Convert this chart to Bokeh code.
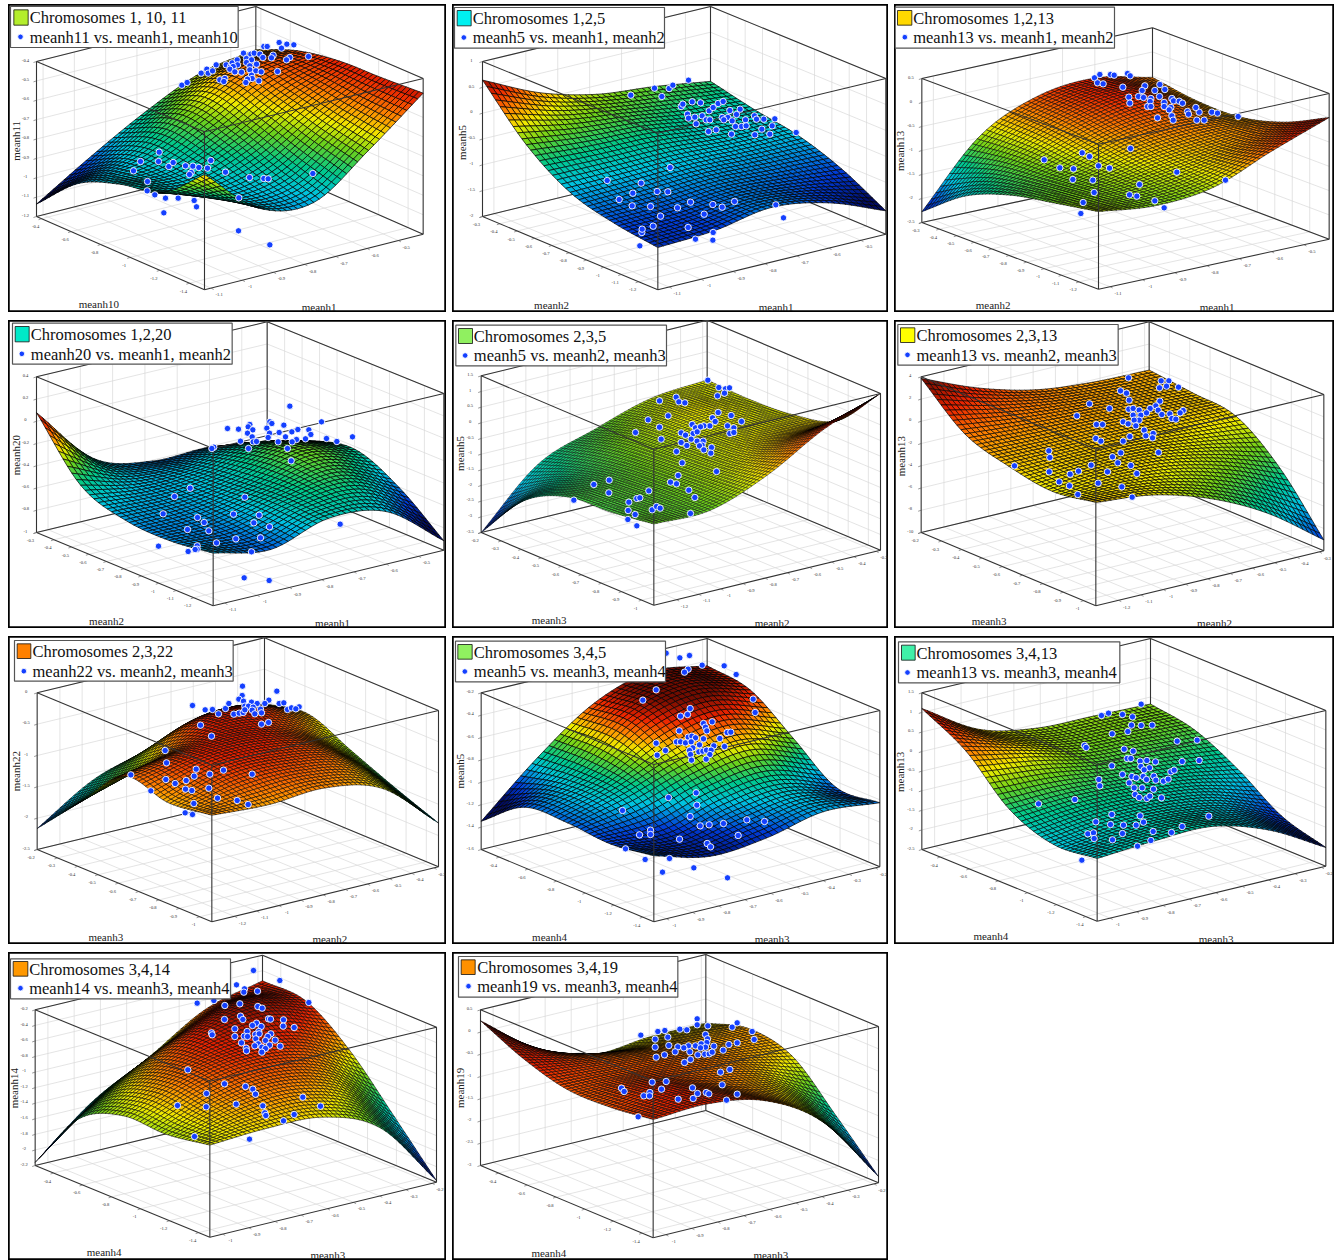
import numpy as np
from bokeh.plotting import figure
from bokeh.models import Range1d, ColumnDataSource
from bokeh.layouts import row, column
from bokeh.core.properties import value
from bokeh.embed import file_html
from bokeh.resources import INLINE

# ---------- chart content ----------
titles = ["Chromosomes 1, 10, 11", "Chromosomes 1,2,5", "Chromosomes 1,2,13", "Chromosomes 1,2,20",
          "Chromosomes 2,3,5", "Chromosomes 2,3,13", "Chromosomes 2,3,22", "Chromosomes 3,4,5",
          "Chromosomes 3,4,13", "Chromosomes 3,4,14", "Chromosomes 3,4,19"]
series = ["meanh11 vs. meanh1, meanh10", "meanh5 vs. meanh1, meanh2", "meanh13 vs. meanh1, meanh2",
          "meanh20 vs. meanh1, meanh2", "meanh5 vs. meanh2, meanh3", "meanh13 vs. meanh2, meanh3",
          "meanh22 vs. meanh2, meanh3", "meanh5 vs. meanh3, meanh4", "meanh13 vs. meanh3, meanh4",
          "meanh14 vs. meanh3, meanh4", "meanh19 vs. meanh3, meanh4"]
swatches = ["#b4ee2c", "#00f0f0", "#ffd800", "#00e8c8", "#90f060", "#ffff00", "#ff8000", "#90f060",
            "#40f0a8", "#ff9800", "#ff9000"]
left_names = ["meanh10", "meanh2", "meanh2", "meanh2", "meanh3", "meanh3", "meanh3", "meanh4", "meanh4", "meanh4", "meanh4"]
right_names = ["meanh1", "meanh1", "meanh1", "meanh1", "meanh2", "meanh2", "meanh2", "meanh3", "meanh3", "meanh3", "meanh3"]
z_names = ["meanh11", "meanh5", "meanh13", "meanh20", "meanh5", "meanh13", "meanh22", "meanh5", "meanh13", "meanh14", "meanh19"]

tk_l10 = ["-0.4", "-0.6", "-0.8", "-1", "-1.2", "-1.4"]
tk_l2 = ["-0.3", "-0.4", "-0.5", "-0.6", "-0.7", "-0.8", "-0.9", "-1", "-1.1", "-1.2"]
tk_l3 = ["-0.2", "-0.3", "-0.4", "-0.5", "-0.6", "-0.7", "-0.8", "-0.9", "-1"]
tk_r1 = ["-1.1", "-1", "-0.9", "-0.8", "-0.7", "-0.6", "-0.5"]
tk_r2 = ["-1.2", "-1.1", "-1", "-0.9", "-0.8", "-0.7", "-0.6", "-0.5", "-0.4", "-0.3"]
tk_r3 = ["-1", "-0.9", "-0.8", "-0.7", "-0.6", "-0.5", "-0.4", "-0.3", "-0.2"]
left_ticks = [tk_l10, tk_l2, tk_l2, tk_l2, tk_l3, tk_l3, tk_l3, tk_l10, tk_l10, tk_l10, tk_l10]
right_ticks = [tk_r1, tk_r1, tk_r1, tk_r1, tk_r2, tk_r2, tk_r2, tk_r3, tk_r3, tk_r3, tk_r3]
z_ticks = [
    ["-0.4", "-0.5", "-0.6", "-0.7", "-0.8", "-0.9", "-1", "-1.1", "-1.2"],
    ["1", "0.5", "0", "-0.5", "-1", "-1.5", "-2"],
    ["0.5", "0", "-0.5", "-1", "-1.5", "-2", "-2.5"],
    ["0.4", "0.2", "0", "-0.2", "-0.4", "-0.6", "-0.8", "-1"],
    ["1.5", "1", "0.5", "0", "-0.5", "-1", "-1.5", "-2", "-2.5", "-3", "-3.5"],
    ["4", "2", "0", "-2", "-4", "-6", "-8", "-10"],
    ["0", "-0.5", "-1", "-1.5", "-2", "-2.5"],
    ["-0.2", "-0.4", "-0.6", "-0.8", "-1", "-1.2", "-1.4", "-1.6"],
    ["1.5", "1", "0.5", "0", "-0.5", "-1", "-1.5", "-2", "-2.5"],
    ["-0.2", "-0.4", "-0.6", "-0.8", "-1", "-1.2", "-1.4", "-1.6", "-1.8", "-2", "-2.2"],
    ["0.5", "0", "-0.5", "-1", "-1.5", "-2", "-2.5", "-3"],
]

# Fitted surfaces: heights as a share of each box's z range, on a 5x5 grid of the two horizontal axes.
surf_1 = [[.08, .30, .50, .66, .72], [.33, .42, .62, .80, .83], [.44, .42, .56, .75, .88], [.50, .40, .46, .68, .89], [.73, .43, .38, .625, .906]]
surf_2 = [[.88, .71, .61, .57, .515], [.58, .54, .52, .47, .45], [.39, .40, .41, .40, .40], [.31, .32, .35, .33, .30], [.27, .29, .35, .29, .15]]
surf_3 = [[.075, .51, .70, .74, .657], [.30, .52, .68, .74, .61], [.42, .50, .62, .66, .61], [.48, .50, .56, .62, .69], [.535, .49, .53, .69, .835]]
surf_4 = [[.77, .385, .28, .28, .215], [.42, .34, .35, .42, .35], [.315, .32, .38, .50, .41], [.30, .30, .40, .45, .28], [.335, .27, .38, .335, .06]]
surf_5 = [[0, .345, .48, .59, .62], [.32, .44, .56, .63, .61], [.46, .50, .58, .62, .63], [.48, .52, .60, .68, .71], [.52, .52, .655, .86, 1.0]]
surf_6 = [[.99, .84, .74, .70, .69], [.75, .72, .70, .68, .66], [.66, .66, .66, .64, .625], [.615, .64, .62, .54, .41], [.66, .62, .51, .33, .07]]
surf_7 = [[.134, .36, .47, .60, .58], [.42, .55, .76, .77, .63], [.70, .76, .80, .72, .51], [.645, .76, .76, .68, .39], [.68, .66, .68, .59, .28]]
surf_8 = [[.18, .50, .76, .875, .825], [.385, .52, .78, .87, .785], [.40, .50, .63, .70, .59], [.38, .36, .46, .50, .39], [.42, .33, .36, .44, .41]]
surf_9 = [[.90, .68, .60, .59, .58], [.745, .66, .57, .55, .53], [.485, .50, .48, .45, .39], [.376, .42, .42, .36, .205], [.40, .425, .43, .32, .12]]
surf_10 = [[.02, .32, .52, .74, .835], [.415, .62, .80, .90, .82], [.55, .72, .80, .78, .62], [.545, .68, .72, .62, .32], [.59, .61, .595, .44, .01]]
surf_11 = [[.93, .66, .535, .56, .56], [.80, .72, .67, .64, .64], [.72, .72, .70, .65, .58], [.72, .76, .68, .58, .32], [.755, .77, .70, .48, .04]]
surfaces = [surf_1, surf_2, surf_3, surf_4, surf_5, surf_6, surf_7, surf_8, surf_9, surf_10, surf_11]

# Observations as they appear in each panel (x, y in the panel's own coordinates).
pts_1 = [(526,248),(542,240),(584,212),(601,200),(605,212),(618,205),(629,187),(640,232),(655,228),(652,237),(659,187),(672,192),(677,181),(692,172),(693,187),(680,192),(670,200),(685,208),(705,209),(711,152),(720,168),(733,155),(743,152),(760,155),(769,165),(735,172),(720,180),(730,190),(750,185),(730,202),(748,205),(764,208),(735,218),(737,228),(723,230),(757,235),(718,240),(772,132),(782,132),(818,120),(841,125),(862,127),(825,137),(800,158),(795,166),(850,165),(840,172),(906,162),(813,207),(458,449),(402,477),(456,477),(487,492),(500,480),(381,505),(537,490),(559,491),(577,495),(603,497),(613,474),(554,510),(549,516),(657,509),(729,525),(772,528),(785,529),(919,513),(423,537),(422,565),(445,577),(477,587),(515,587),(563,594),(570,613),(472,631),(697,586),(696,685),(790,727)]
pts_2 = [(541,278),(612,257),(634,282),(656,258),(667,248),(714,233),(692,312),(697,305),(725,298),(750,301),(711,335),(714,347),(733,344),(755,340),(737,364),(767,352),(776,325),(788,315),(803,303),(818,297),(778,352),(815,345),(832,345),(838,324),(869,320),(858,336),(845,355),(820,352),(885,352),(873,372),(855,372),(887,370),(843,395),(797,382),(774,387),(912,340),(918,350),(940,350),(973,349),(934,380),(958,395),(913,397),(965,370),(1037,390),(659,495),(572,542),(547,572),(620,567),(652,568),(506,591),(545,610),(600,612),(720,599),(681,616),(787,606),(815,614),(852,597),(976,607),(630,641),(761,635),(608,671),(713,675),(574,690),(575,680),(568,730),(788,690),(787,713),(735,710),(999,646),(470,534)]
pts_3 = [(606,226),(622,216),(654,216),(665,218),(705,213),(713,220),(615,241),(632,244),(691,254),(757,250),(802,246),(817,261),(787,264),(749,264),(738,282),(709,284),(712,302),(753,285),(801,282),(775,288),(773,297),(815,300),(838,288),(843,295),(860,296),(870,302),(765,312),(775,312),(815,312),(835,315),(830,322),(920,329),(910,315),(885,327),(888,335),(958,329),(975,332),(838,340),(795,346),(842,353),(913,353),(935,353),(1037,342),(714,438),(569,451),(591,462),(455,472),(502,496),(543,499),(618,490),(651,497),(541,531),(601,533),(853,509),(741,546),(999,533),(605,570),(711,577),(733,581),(787,595),(815,616),(565,633),(572,600)]
pts_4 = [(850,263),(945,310),(790,310),(796,315),(832,320),(730,318),(725,325),(663,330),(696,332),(739,334),(723,344),(781,329),(874,333),(907,334),(789,344),(818,342),(856,340),(913,348),(737,355),(785,357),(702,368),(740,370),(750,369),(837,355),(870,363),(857,370),(815,370),(897,361),(960,360),(991,369),(1038,355),(843,390),(726,390),(622,386),(616,390),(854,427),(551,509),(504,534),(715,536),(470,586),(573,597),(681,587),(758,590),(742,613),(593,612),(543,633),(607,637),(789,625),(688,661),(762,658),(630,673),(456,683),(572,682),(572,692),(566,693),(545,699),(735,700),(1001,617),(713,778),(788,786)]
pts_5 = [(772,185),(805,207),(825,211),(837,208),(822,224),(801,232),(627,247),(677,236),(685,250),(703,253),(803,282),(842,291),(786,298),(794,309),(653,292),(593,304),(627,326),(873,309),(831,322),(850,328),(778,322),(760,322),(725,318),(735,328),(750,325),(555,342),(632,362),(692,343),(705,350),(728,345),(740,340),(838,345),(850,342),(722,362),(740,368),(758,368),(755,380),(747,382),(709,381),(692,372),(678,399),(760,394),(783,387),(781,404),(695,433),(798,459),(683,471),(678,496),(660,491),(476,485),(430,498),(475,523),(595,517),(715,515),(559,540),(568,538),(733,537),(535,551),(370,545),(533,576),(554,588),(605,574),(618,564),(629,569),(720,585),(532,603),(559,622)]
pts_6 = [(708,178),(806,187),(829,187),(822,203),(801,208),(858,206),(684,217),(702,224),(710,245),(591,256),(651,270),(802,248),(790,262),(773,270),(797,275),(709,272),(722,270),(740,275),(722,290),(745,290),(762,283),(872,276),(863,283),(832,286),(808,288),(838,300),(850,302),(553,292),(740,305),(725,305),(612,318),(630,318),(692,310),(707,316),(730,322),(755,335),(782,345),(712,354),(760,352),(610,360),(625,368),(692,368),(780,358),(798,402),(685,403),(660,415),(469,397),(472,417),(676,433),(715,441),(596,440),(366,442),(470,460),(558,458),(533,467),(645,460),(733,465),(500,490),(531,502),(617,494),(688,505),(556,528),(719,536)]
pts_7 = [(708,155),(811,170),(707,183),(697,194),(711,200),(787,197),(818,207),(832,205),(558,213),(596,226),(618,225),(657,222),(667,207),(735,203),(752,207),(715,215),(726,215),(740,218),(775,207),(878,217),(843,225),(855,220),(868,223),(636,238),(682,239),(698,236),(710,234),(715,226),(737,227),(745,238),(762,224),(765,235),(765,269),(786,264),(582,272),(615,305),(476,348),(480,385),(569,404),(563,425),(651,407),(737,419),(610,419),(373,421),(478,435),(506,447),(539,438),(607,461),(537,464),(556,468),(433,469),(633,491),(692,498),(725,510),(562,507),(536,535),(558,540)]
pts_8 = [(647,56),(688,70),(717,63),(755,92),(821,94),(713,104),(702,113),(857,120),(617,166),(577,197),(908,194),(914,234),(719,222),(711,240),(690,245),(785,262),(759,267),(765,278),(769,289),(830,294),(841,293),(686,289),(808,312),(759,313),(713,308),(724,305),(735,310),(617,326),(678,322),(690,322),(705,325),(722,322),(747,331),(790,334),(822,336),(727,340),(717,348),(745,352),(757,350),(768,347),(782,347),(720,360),(778,360),(645,348),(620,362),(723,377),(767,374),(654,489),(737,475),(739,512),(516,528),(719,546),(600,587),(600,600),(567,601),(749,574),(776,571),(819,567),(889,556),(942,561),(863,603),(687,614),(770,627),(780,637),(525,643),(584,675),(657,672),(636,713),(730,700),(831,730)]
pts_9 = [(746,209),(627,243),(648,236),(690,240),(720,247),(717,272),(746,273),(779,272),(706,291),(659,298),(576,333),(581,339),(854,320),(914,317),(695,344),(722,350),(704,372),(715,372),(743,380),(763,378),(789,382),(869,381),(920,378),(745,396),(771,400),(755,406),(658,394),(690,420),(835,412),(845,407),(718,426),(731,430),(752,426),(784,425),(762,435),(790,437),(813,440),(827,434),(710,445),(725,460),(749,460),(783,464),(619,435),(622,454),(728,480),(740,489),(763,492),(772,485),(807,490),(547,495),(438,508),(658,540),(743,544),(949,545),(610,562),(654,570),(693,572),(731,572),(753,563),(869,576),(586,598),(603,595),(690,597),(782,591),(837,594),(660,616),(605,612),(775,618),(568,677),(735,635)]
pts_10 = [(741,60),(820,90),(690,103),(714,115),(712,125),(753,122),(572,158),(622,150),(655,165),(700,160),(907,156),(754,168),(767,173),(702,197),(654,207),(709,207),(786,205),(792,206),(831,208),(750,218),(738,225),(764,228),(830,227),(863,231),(685,235),(615,247),(617,253),(722,243),(757,243),(747,252),(793,250),(758,250),(713,257),(723,258),(685,258),(784,258),(748,265),(777,270),(806,269),(705,277),(755,280),(745,286),(789,284),(766,290),(821,287),(777,294),(719,293),(720,301),(766,305),(544,358),(654,400),(717,408),(739,416),(747,431),(600,429),(889,440),(513,465),(599,469),(689,461),(769,466),(942,467),(775,487),(778,495),(863,492),(831,511),(564,558),(729,566)]
pts_11 = [(740,205),(740,223),(772,226),(860,217),(845,230),(905,243),(688,236),(709,238),(643,240),(622,243),(571,254),(614,266),(652,260),(765,252),(771,265),(911,267),(860,277),(835,282),(769,276),(655,285),(614,290),(682,289),(714,286),(700,292),(735,286),(752,280),(765,290),(790,287),(750,292),(674,304),(718,304),(742,313),(763,311),(776,310),(785,305),(818,299),(642,313),(617,320),(720,327),(702,336),(838,357),(810,365),(605,395),(647,393),(815,403),(513,413),(521,423),(633,416),(598,426),(580,436),(597,436),(741,429),(767,426),(775,430),(860,431),(726,412),(728,444),(683,446),(828,449),(563,499)]
points = [pts_1, pts_2, pts_3, pts_4, pts_5, pts_6, pts_7, pts_8, pts_9, pts_10, pts_11]

# ---------- layout and style ----------
# Box corners in panel coordinates: (x, floor y, top y) for left, front, right, back.
BOX = [
    [(90,642,177),(594,862,388),(1250,695,228),(748,475,12)],
    [(96,642,177),(622,862,392),(1306,695,228),(780,475,12)],
    [(88,660,228),(618,860,425),(1310,710,273),(780,510,76)],
    [(90,642,175),(620,862,390),(1312,695,225),(782,475,10)],
    [(92,642,172),(610,860,392),(1290,695,225),(770,477,5)],
    [(86,642,175),(610,862,392),(1294,697,228),(770,477,10)],
    [(92,645,175),(616,862,392),(1296,697,228),(774,480,10)],
    [(92,645,175),(610,862,390),(1288,697,228),(770,480,12)],
    [(88,645,175),(614,860,390),(1300,695,228),(774,480,12)],
    [(86,645,178),(610,860,392),(1290,695,230),(768,480,14)],
    [(90,645,178),(608,862,392),(1284,697,228),(766,480,12)],
]
# first / last tick position along the left and right axes
SPAN = [(.03,.91,.03,.886)] + [(0,.89,.05,.89)]*3 + [(0,.93,.10,.98)]*3 + [(.105,.936,.056,.98)]*4
# colour scale limits (share of the box height), mesh density and mesh line width
CLIM = [(.15,.98),(.20,.90),(.03,.85),(.15,.80),(-.05,1.0),(-.06,.98),(.02,.90),(.30,.85),(.12,.93),(0,.92),(0,.88)]
MESH = [40,40,50,40,60,44,50,40,44,50,50]
MESH_W = {40: 0.7, 44: 0.65, 50: 0.55, 60: 0.42}
LEG = [  # box (l,t,r,b), swatch (l,t,r,b), dot (x,y), text x
    ((12,12,695,135),(22,22,65,68),(42,103),70),
    ((12,15,642,137),(20,24,62,70),(40,105),67),
    ((8,14,666,137),(15,24,58,68),(37,104),62),
    ((18,14,677,137),(26,24,68,70),(46,106),73),
    ((16,20,648,142),(24,30,66,75),(44,111),70),
    ((16,18,677,140),(24,28,67,72),(45,109),72),
    ((24,18,680,140),(32,28,73,72),(52,110),78),
    ((15,20,645,142),(22,30,65,74),(43,111),70),
    ((18,22,682,145),(27,32,68,77),(45,114),72),
    ((12,25,672,145),(20,33,64,77),(42,113),68),
    ((24,18,682,140),(32,28,74,72),(54,107),80),
]
TITLE_POS = [((277,903),(938,912),(27,415)),((303,906),(977,912),(33,420)),((302,908),(974,912),(22,445)),
             ((300,907),(978,912),(27,410)),((296,904),(965,912),(28,405)),((290,906),(966,912),(25,413)),
             ((298,907),(970,912),(28,410)),((297,906),(965,912),(28,410)),((295,904),(971,912),(23,412)),
             ((293,904),(964,912),(23,413)),((295,906),(961,912),(27,412))]
WIDTHS = [438, 436, 440]
SERIF = value("Liberation Serif")
STOPS = [(0,(0,10,100)),(.14,(0,60,215)),(.3,(0,195,225)),(.42,(0,200,140)),(.55,(110,210,25)),
         (.65,(240,235,0)),(.75,(255,140,0)),(.87,(235,35,0)),(1,(115,12,0))]
sp = [a for a, _ in STOPS]
def colour(f):
    f = min(max(f, 0), 1)
    return "#%02x%02x%02x" % tuple(int(round(np.interp(f, sp, [c[k] for _, c in STOPS]))) for k in range(3))

def refine(G, N):
    def along(A):
        E = np.vstack([2*A[0]-A[1], A, 2*A[-1]-A[-2]])
        out = []
        for u in np.linspace(0, 1, N+1):
            pos = u*(len(A)-1); i = min(int(pos), len(A)-2); f = pos-i
            p0, p1, p2, p3 = E[i], E[i+1], E[i+2], E[i+3]
            out.append(.5*(2*p1+(p2-p0)*f+(2*p0-5*p1+4*p2-p3)*f*f+(-p0+3*p1-3*p2+p3)*f**3))
        return np.array(out)
    return along(along(np.array(G, float)).T).T

def panel(k, width):
    p = figure(width=width, height=308, x_range=Range1d(6, 6+width*3), y_range=Range1d(930, 6),
               output_backend="svg", toolbar_location=None, min_border=0,
               outline_line_color="black", outline_line_width=2.5, background_fill_color="white",
               border_fill_color="white")
    p.axis.visible = False
    p.grid.visible = False
    (Lx,L0,L1),(Fx,F0,F1),(Rx,R0,R1),(Bx,B0,B1) = BOX[k]
    def proj(s, t, h):
        x = (1-s)*(1-t)*Lx + s*(1-t)*Fx + s*t*Rx + (1-s)*t*Bx
        y0 = (1-s)*(1-t)*L0 + s*(1-t)*F0 + s*t*R0 + (1-s)*t*B0
        y1 = (1-s)*(1-t)*L1 + s*(1-t)*F1 + s*t*R1 + (1-s)*t*B1
        return x, y0 + (y1-y0)*h
    s0, s1, t0, t1 = SPAN[k]
    ss = np.linspace(s0, s1, len(left_ticks[k]))
    tt = np.linspace(t0, t1, len(right_ticks[k]))
    hh = np.linspace(1, 0, len(z_ticks[k]))
    # grid on the floor and the two back walls (planes t=1 and s=0)
    gx, gy = [], []
    def seg(a, b):
        gx.append([a[0], b[0]]); gy.append([a[1], b[1]])
    for s in ss:
        seg(proj(s,0,0), proj(s,1,0)); seg(proj(s,1,0), proj(s,1,1))
    for t in tt:
        seg(proj(0,t,0), proj(1,t,0)); seg(proj(0,t,0), proj(0,t,1))
    for h in hh:
        seg(proj(0,0,h), proj(0,1,h)); seg(proj(0,1,h), proj(1,1,h))
    p.multi_line(gx, gy, line_color="#d9d9d9", line_width=0.7)
    # box edges behind the surface
    def edges(pairs, **kw):
        p.multi_line([[a[0], b[0]] for a, b in pairs], [[a[1], b[1]] for a, b in pairs], **kw)
    box_style = dict(line_color="#333333", line_width=1.1)
    edges([(proj(0,0,0),proj(0,1,0)),(proj(0,1,0),proj(1,1,0)),(proj(0,1,0),proj(0,1,1)),
           (proj(0,0,1),proj(0,1,1)),(proj(0,1,1),proj(1,1,1)),(proj(0,0,0),proj(0,0,1)),
           (proj(1,1,0),proj(1,1,1)),(proj(0,0,0),proj(1,0,0)),(proj(1,0,0),proj(1,1,0))], **box_style)
    # ticks and tick labels
    tick = []
    for s in ss:
        a = proj(s,0,0); tick.append((a, (a[0]-9, a[1]+3)))
    for t in tt:
        a = proj(1,t,0); tick.append((a, (a[0]+8, a[1]+4)))
    for h in hh:
        a = proj(0,0,h); tick.append((a, (a[0]-9, a[1]+3)))
    edges(tick, line_color="#555555", line_width=0.6)
    lab_x = [proj(s,0,0)[0]-18 for s in ss] + [proj(1,t,0)[0]+24 for t in tt] + [proj(0,0,h)[0]-33 for h in hh]
    lab_y = [proj(s,0,0)[1]+24 for s in ss] + [proj(1,t,0)[1]+20 for t in tt] + [proj(0,0,h)[1]-4 for h in hh]
    p.text(lab_x, lab_y, text=left_ticks[k]+right_ticks[k]+z_ticks[k], text_font=SERIF,
           text_font_size=value("4.6px"), text_color="#333333", text_align="center", text_baseline="middle")
    # surface, far cells first
    N = MESH[k]
    H = refine(surfaces[k], N)
    u = np.linspace(0, 1, N+1)
    cl, ch = CLIM[k]
    qx, qy, qc = [], [], []
    for i in range(N):
        for j in range(N-1, -1, -1):
            cs = [(i,j),(i+1,j),(i+1,j+1),(i,j+1)]
            xy = [proj(u[a], u[b], H[a,b]) for a, b in cs]
            qx.append([q[0] for q in xy]); qy.append([q[1] for q in xy])
            qc.append(colour((np.mean([H[a,b] for a, b in cs])-cl)/(ch-cl)))
    p.patches("x", "y", fill_color="c", line_color="#000000", line_width=MESH_W[N],
              source=ColumnDataSource(dict(x=qx, y=qy, c=qc)))
    # front box edges pass in front of the surface
    edges([(proj(0,0,1),proj(1,0,1)),(proj(1,0,1),proj(1,1,1)),(proj(1,0,0),proj(1,0,1))], **box_style)
    # observations
    p.scatter([a for a, _ in points[k]], [b for _, b in points[k]], size=6.4, fill_color="#1440ff",
              line_color="white", line_width=0.9)
    # axis titles
    (ax,ay),(bx,by),(cx,cy) = TITLE_POS[k]
    p.text([ax,bx], [ay,by], text=[left_names[k], right_names[k]], text_font=SERIF, text_font_size=value("11px"),
           text_color="#222222", text_align="center", text_baseline="middle")
    p.text([cx], [cy], text=[z_names[k]], text_font=SERIF, text_font_size=value("11px"), angle=np.pi/2,
           text_color="#222222", text_align="center", text_baseline="middle")
    # legend
    box, sw, dot, tx = LEG[k]
    p.quad(left=[box[0]], right=[box[2]], top=[box[1]], bottom=[box[3]], fill_color="white", line_color="#555555", line_width=1.2)
    p.quad(left=[sw[0]], right=[sw[2]], top=[sw[1]], bottom=[sw[3]], fill_color=swatches[k], line_color="#111111", line_width=0.8)
    p.scatter([dot[0]], [dot[1]], size=5.6, fill_color="#1440ff", line_color="white", line_width=0.9)
    p.text([tx, tx], [(sw[1]+sw[3])/2+1, dot[1]+1], text=[titles[k], series[k]], text_font=SERIF,
           text_font_size=value("16.5px"), text_color="#111111", text_align="left", text_baseline="middle")
    return p

figs = [panel(k, WIDTHS[k % 3]) for k in range(11)]
rows = [row(*figs[i:i+3], spacing=6) for i in range(0, 11, 3)]
page = column(*rows, spacing=8, margin=(4, 0, 0, 8))
open("out.html", "w").write(file_html(page, INLINE))
